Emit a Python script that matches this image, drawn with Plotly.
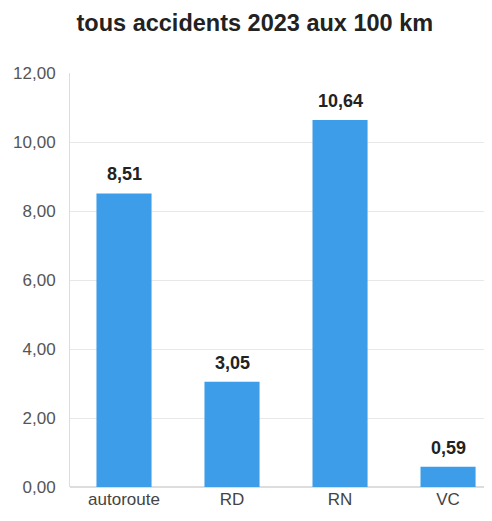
import plotly.graph_objects as go

categories = ["autoroute", "RD", "RN", "VC"]
values = [8.51, 3.05, 10.64, 0.59]
value_labels = ["8,51", "3,05", "10,64", "0,59"]
title_text = "tous accidents 2023 aux 100 km"

fig = go.Figure(go.Bar(
    x=categories, y=values,
    marker=dict(color="#3d9de8", line=dict(width=0)),
    width=0.51,
    cliponaxis=False,
))

for c, v, t in zip(categories, values, value_labels):
    fig.add_annotation(
        x=c, y=v, text="<b>" + t + "</b>", showarrow=False,
        yanchor="bottom", yshift=7,
        font=dict(family="Liberation Sans, Arial, sans-serif", size=18, color="#222222"),
    )

fig.update_layout(
    width=484, height=513,
    margin=dict(l=62, r=0, t=65, b=34),
    paper_bgcolor="white", plot_bgcolor="white",
    separators=",.",
    title=dict(text="<b>" + title_text + "</b>", x=0.51, xanchor="center",
               xref="container", yref="container", y=0.971, yanchor="middle",
               font=dict(family="Liberation Sans, Arial, sans-serif", size=23.5, color="#222222")),
    showlegend=False,
)
fig.update_xaxes(
    range=[-0.5, 3.407], showgrid=False, showline=False, zeroline=False,
    tickfont=dict(family="Liberation Sans, Arial, sans-serif", size=17, color="#444444"),
    ticks="",
)
fig.update_yaxes(
    range=[0, 12], dtick=2, tickformat=".2f",
    showgrid=True, gridcolor="#e8e8e8", gridwidth=1,
    showline=True, linecolor="#dddddd", linewidth=1,
    zeroline=True, zerolinecolor="#dddddd",
    ticks="outside", ticklen=10, tickcolor="white",
    tickfont=dict(family="Liberation Sans, Arial, sans-serif", size=17, color="#555555"),
)

fig.write_html("out.html")
